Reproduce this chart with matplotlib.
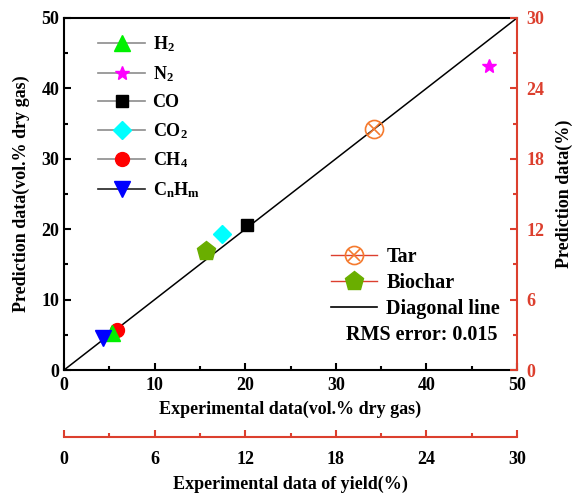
import matplotlib.pyplot as plt
from matplotlib.lines import Line2D

plt.rcParams['font.family'] = 'Liberation Serif'
plt.rcParams['font.weight'] = 'bold'
plt.rcParams['axes.labelweight'] = 'bold'
plt.rcParams['mathtext.fontset'] = 'custom'
plt.rcParams['mathtext.rm'] = 'Liberation Serif:bold'
plt.rcParams['mathtext.it'] = 'Liberation Serif:bold'
plt.rcParams['mathtext.default'] = 'rm'

RED = '#DC3F2E'

# gas composition, vol.% dry gas
gases = ['H$_2$', 'N$_2$', 'CO', 'CO$_2$', 'CH$_4$', 'C$_n$H$_m$']
gas_exp = [5.3, 46.9, 20.2, 17.4, 5.8, 4.3]
gas_pred = [5.3, 43.2, 20.6, 19.3, 5.7, 4.6]

# product yields, %
products = ['Tar', 'Biochar']
yield_exp = [20.5, 9.4]
yield_pred = [20.5, 10.1]

gas_style = [
    dict(marker='^', color='#00F000', ms=11),
    dict(marker='*', color='#FF00FF', ms=10),
    dict(marker='s', color='black', ms=9),
    dict(marker='D', color='#00FFFF', ms=9),
    dict(marker='o', color='#FF0000', ms=10),
    dict(marker='v', color='#0000FF', ms=11),
]
gas_z = [4, 3, 3, 3, 3, 5]

fig = plt.figure(figsize=(5.77, 4.94), dpi=100)
ax = fig.add_axes([0.111, 0.251, 0.785, 0.7126])
ay = fig.add_axes(ax.get_position(), facecolor='none')

# diagonal
ax.plot([0, 50], [0, 50], color='black', lw=1.1, zorder=2)

gas_handles = []
for name, xe, yp, st, z in zip(gases, gas_exp, gas_pred, gas_style, gas_z):
    ax.plot([xe], [yp], ls='none', marker=st['marker'], color=st['color'],
            ms=st['ms'], mec=st['color'], zorder=z)
    lc = '#222222' if name.startswith('C$_n') else '#8C8C8C'
    gas_handles.append(Line2D([], [], color=lc, lw=1.2, marker=st['marker'],
                              mfc=st['color'], mec=st['color'], ms=st['ms']))

ax.set_xlim(0, 50)
ax.set_ylim(0, 50)
ax.set_xticks(range(0, 51, 10))
ax.set_xticks(range(5, 50, 10), minor=True)
ax.set_yticks(range(0, 51, 10))
ax.set_yticks(range(5, 50, 10), minor=True)
ax.tick_params(which='both', direction='in', width=1.5, labelsize=13,
               top=False, right=False)
ax.tick_params(which='major', length=5)
ax.tick_params(which='minor', length=3)
ax.tick_params(axis='x', which='major', pad=5)
for s in ['left', 'bottom', 'top']:
    ax.spines[s].set_linewidth(1.5)
ax.spines['right'].set_visible(False)
ax.set_xlabel('Experimental data(vol.% dry gas)', fontsize=13, labelpad=5)
ax.set_ylabel('Prediction data(vol.% dry gas)', fontsize=13, labelpad=8)

ax.legend(gas_handles, gases, loc='upper left', bbox_to_anchor=(0.04, 1.0),
          frameon=False, fontsize=13, handlelength=2.6, labelspacing=0.56,
          handletextpad=0.4)

# yield scale on the right and on an offset bottom axis
tar_o, = ay.plot([yield_exp[0]], [yield_pred[0]], ls='none', marker='o',
                 mfc='none', mec='#F57A2E', ms=13, mew=1.2, zorder=4)
tar_x, = ay.plot([yield_exp[0]], [yield_pred[0]], ls='none', marker='x',
                 color='#F57A2E', ms=9, mew=1.2, zorder=4)
ay.plot([yield_exp[1]], [yield_pred[1]], ls='none', marker='p', color='#6AAE00',
        ms=14, zorder=3)

ay.set_xlim(0, 30)
ay.set_ylim(0, 30)
ay.set_xticks(range(0, 31, 6))
ay.set_xticks(range(3, 30, 6), minor=True)
ay.set_yticks(range(0, 31, 6))
ay.set_yticks(range(3, 30, 6), minor=True)
ay.yaxis.tick_right()
ay.yaxis.set_label_position('right')
ay.spines['left'].set_visible(False)
ay.spines['top'].set_visible(False)
ay.spines['right'].set_color(RED)
ay.spines['right'].set_linewidth(1.5)
ay.spines['bottom'].set_color(RED)
ay.spines['bottom'].set_linewidth(1.5)
ay.spines['bottom'].set_position(('outward', 48.5))
ay.tick_params(which='both', direction='in', width=1.5, color=RED, labelsize=13)
ay.tick_params(axis='y', which='both', labelcolor=RED, pad=7)
ay.tick_params(axis='x', which='major', pad=10)
ay.tick_params(which='major', length=5)
ay.tick_params(which='minor', length=3)
ay.set_ylabel('Prediction data(%)', fontsize=13, rotation=90, labelpad=8)
ay.set_xlabel('Experimental data of yield(%)', fontsize=13, labelpad=5)

yield_handles = [
    (Line2D([], [], color=RED, lw=1.0), tar_o, tar_x),
    Line2D([], [], color=RED, lw=1.0, marker='p', mfc='#6AAE00', mec='#6AAE00', ms=14),
    Line2D([], [], color='black', lw=1.2),
]
yield_labels = ['Tar', 'Biochar', 'Diagonal line']
ay.legend(yield_handles, yield_labels, loc='upper left',
          bbox_to_anchor=(0.589, 0.35), frameon=False, fontsize=14.5,
          borderaxespad=0, borderpad=0, handlelength=2.3,
          labelspacing=0.3, handletextpad=0.45)
ay.text(0.956, 0.1, 'RMS error: 0.015', transform=ay.transAxes,
        ha='right', va='center', fontsize=14.5, fontweight='bold')

fig.savefig('out.png', dpi=100)
